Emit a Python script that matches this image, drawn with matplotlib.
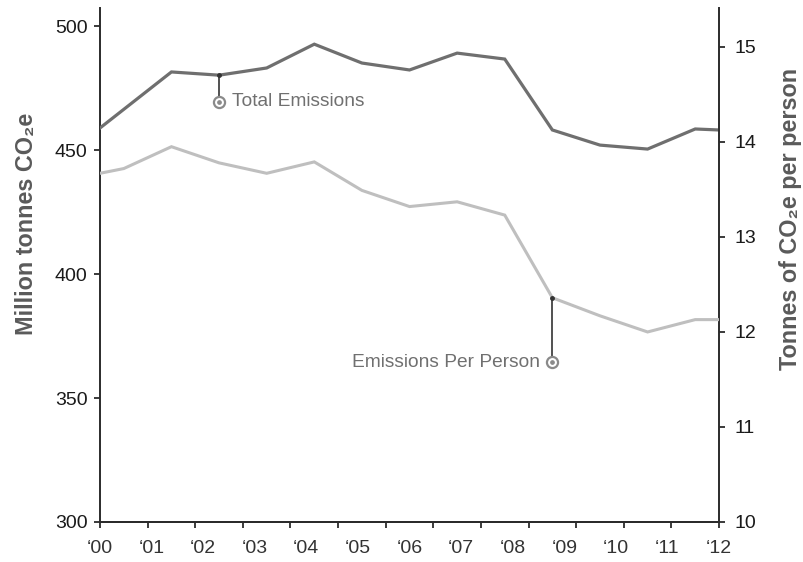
import matplotlib
matplotlib.use("Agg")
import matplotlib.pyplot as plt

# ---- data ----
years = ["\u201800", "\u201801", "\u201802", "\u201803", "\u201804", "\u201805", "\u201806",
         "\u201807", "\u201808", "\u201809", "\u201810", "\u201811", "\u201812"]

# positions on the 14-tick grid the original chart was drawn on
total_x = [0, 1.5, 2.5, 3.5, 4.5, 5.5, 6.5, 7.5, 8.5, 9.5, 10.5, 11.5, 12.5, 13]
total_mt = [458.9, 481.5, 480.2, 483.1, 492.7, 485.1, 482.3, 489.1, 486.7,
            458.1, 452.0, 450.4, 458.5, 458.1]

person_x = [0, 0.5, 1.5, 2.5, 3.5, 4.5, 5.5, 6.5, 7.5, 8.5, 9.5, 10.5, 11.5, 12.5, 13]
person_t = [13.67, 13.72, 13.95, 13.78, 13.67, 13.79, 13.49, 13.32, 13.37, 13.23,
            12.36, 12.17, 12.00, 12.13, 12.13]

# annotation anchors: (x, value on line, value at label marker)
total_note = (2.5, 480.2, 469.4)
person_note = (9.5, 12.36, 11.68)

FONT = ["Liberation Sans", "DejaVu Sans"]
plt.rcParams["font.family"] = FONT

DARK = "#6f6f6f"
LIGHT = "#bfbfbf"
AXIS = "#2b2b2b"
LABEL = "#5a5a5a"

fig = plt.figure(figsize=(8.04, 5.62), dpi=100)
ax = fig.add_axes([0.1244, 0.0712, 0.7699, 0.9146])
ax2 = ax.twinx()

ax.plot(total_x, total_mt, color=DARK, lw=2.3, solid_joinstyle="miter", zorder=3)
ax2.plot(person_x, person_t, color=LIGHT, lw=2.2, solid_joinstyle="miter", zorder=3)

ax.set_xlim(0, 13)
ax.set_ylim(300, 507.3)
ax2.set_ylim(10, 15.41)

# leader lines + ring markers
def note(a, x, y_line, y_mark, text, ha, dx):
    a.plot([x, x], [y_line, y_mark], color="#333333", lw=1.2, zorder=4)
    a.plot([x], [y_line], "o", color="#333333", ms=2.5, zorder=5)
    a.plot([x], [y_mark], "o", mfc="white", mec="#8a8a8a", mew=1.6, ms=8, zorder=5)
    a.plot([x], [y_mark], "o", color="#8a8a8a", ms=2.4, zorder=6)
    a.annotate(text, (x, y_mark), xytext=(dx, 0), textcoords="offset points",
               ha=ha, va="center", fontsize=13.8, color="#707070", family=FONT)

note(ax, *total_note, "Total Emissions", "left", 9)
note(ax2, *person_note, "Emissions Per Person", "right", -9)

# spines
for a in (ax, ax2):
    a.spines["top"].set_visible(False)
    for s in ("left", "right", "bottom"):
        a.spines[s].set_color(AXIS)
        a.spines[s].set_linewidth(1.4)
ax.spines["right"].set_visible(False)
ax2.spines["left"].set_visible(False)

# x: unlabelled grid ticks, labels on a 13-step scale
ax.xaxis.remove_overlapping_locs = False
ax.set_xticks(range(14))
ax.set_xticklabels([""] * 14)
ax.tick_params(axis="x", which="major", length=4, width=1.3, color=AXIS)
ax.set_xticks([k * 13 / 12 for k in range(13)], years, minor=True)
ax.tick_params(axis="x", which="minor", length=0, pad=13, labelsize=14, labelcolor="#333333")

ax.set_yticks([300, 350, 400, 450, 500])
ax2.set_yticks([10, 11, 12, 13, 14, 15])
ax.tick_params(axis="y", length=4, width=1.3, color=AXIS, pad=5, labelsize=14, labelcolor="#1a1a1a")
ax2.tick_params(axis="y", length=4, width=1.3, color=AXIS, pad=7, labelsize=14, labelcolor="#1a1a1a")

ax.set_ylabel("Million tonnes CO\u2082e", fontsize=16.8, fontweight="bold", color=LABEL,
              ha="center", va="center")
ax.yaxis.set_label_coords(-0.118, 0.58)
ax2.set_ylabel("Tonnes of CO\u2082e per person", fontsize=16.8, fontweight="bold", color=LABEL,
               rotation=90, ha="center", va="center")
ax2.yaxis.set_label_coords(1.116, 0.59)

fig.savefig("out.png", dpi=100)
